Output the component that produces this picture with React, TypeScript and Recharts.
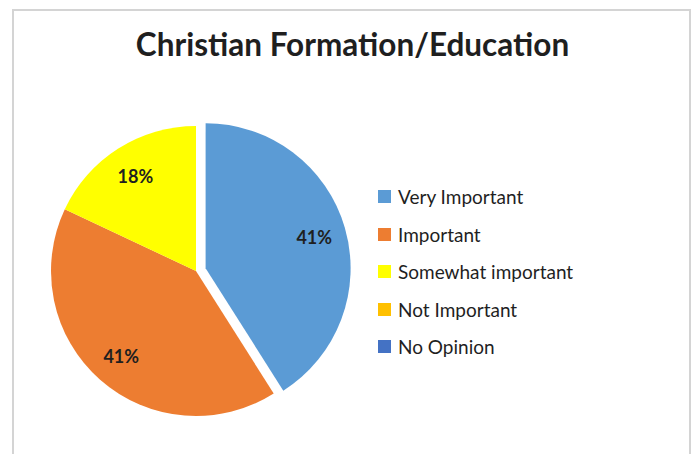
import { PieChart, Pie, Cell, Legend } from 'recharts'

const title = 'Christian Formation/Education'
const categories = ['Very Important', 'Important', 'Somewhat important', 'Not Important', 'No Opinion']
const shares = [41, 41, 18, 0, 0]
const colors = ['#5B9BD5', '#ED7D31', '#FFFF00', '#FFC000', '#4472C4']
const explodedCategory = 'Very Important'

const data = categories.map((name, i) => ({ name, value: shares[i] }))

const FONT = 'Lato, "Open Sans", sans-serif'
const CX = 196
const CY = 271
const R = 145
const EXPLODE = 10
const RADIAN = Math.PI / 180

// direction of the exploded slice, from its share of the circle
const total = shares.reduce((a, b) => a + b, 0)
const explodedIndex = categories.indexOf(explodedCategory)
const before = shares.slice(0, explodedIndex).reduce((a, b) => a + b, 0)
const midAngle = 90 - (360 * (before + shares[explodedIndex] / 2)) / total
const dx = EXPLODE * Math.cos(midAngle * RADIAN)
const dy = -EXPLODE * Math.sin(midAngle * RADIAN)

function makeLabel(onlyExploded: boolean) {
  return (props: any) => {
    const { cx, cy, midAngle, outerRadius, value, name } = props
    if (!value) return null
    if ((name === explodedCategory) !== onlyExploded) return null
    const r = outerRadius * 0.78
    const x = cx + r * Math.cos(-midAngle * RADIAN)
    const y = cy + r * Math.sin(-midAngle * RADIAN)
    return (
      <text
        x={x}
        y={y}
        textAnchor="middle"
        dominantBaseline="central"
        fill="#1f1f1f"
        fontFamily={FONT}
        fontSize={18}
        fontWeight={700}
      >
        {`${value}%`}
      </text>
    )
  }
}

function renderLegend() {
  return (
    <div style={{ fontFamily: FONT, fontSize: 19, color: '#1f1f1f' }}>
      {categories.map((c, i) => (
        <div key={c} style={{ display: 'flex', alignItems: 'center', height: 37.5 }}>
          <span
            style={{
              display: 'inline-block',
              width: 13,
              height: 13,
              background: colors[i],
              marginRight: 7,
            }}
          />
          {c}
        </div>
      ))}
    </div>
  )
}

export default function App() {
  return (
    <div style={{ position: 'absolute', left: 0, top: 0, width: 694, height: 454, background: '#fff' }}>
      <div
        style={{
          position: 'absolute',
          left: 12,
          top: 9,
          width: 679,
          height: 460,
          border: '2px solid #d4d4d4',
          boxSizing: 'border-box',
        }}
      />
      <div
        style={{
          position: 'absolute',
          left: 0,
          width: 705,
          top: 25,
          textAlign: 'center',
          fontFamily: FONT,
          fontWeight: 700,
          fontSize: 31.5,
          color: '#1f1f1f',
        }}
      >
        {title}
      </div>
      <PieChart
        width={694}
        height={454}
        margin={{ top: 0, right: 0, bottom: 0, left: 0 }}
        style={{ position: 'absolute', left: 0, top: 0 }}
      >
        <Pie
          data={data}
          dataKey="value"
          nameKey="name"
          cx={CX}
          cy={CY}
          outerRadius={R}
          startAngle={90}
          endAngle={-270}
          stroke="none"
          label={makeLabel(false)}
          labelLine={false}
          isAnimationActive={false}
        >
          {data.map((d, i) => (
            <Cell key={d.name} fill={d.name === explodedCategory ? 'transparent' : colors[i]} />
          ))}
        </Pie>
        <Pie
          data={data}
          dataKey="value"
          nameKey="name"
          cx={CX + dx}
          cy={CY + dy}
          outerRadius={R}
          startAngle={90}
          endAngle={-270}
          stroke="none"
          label={makeLabel(true)}
          labelLine={false}
          isAnimationActive={false}
        >
          {data.map((d, i) => (
            <Cell key={d.name} fill={d.name === explodedCategory ? colors[i] : 'transparent'} />
          ))}
        </Pie>
        <Legend
          layout="vertical"
          content={renderLegend}
          wrapperStyle={{ left: 378, top: 178, width: 280 }}
        />
      </PieChart>
    </div>
  )
}
